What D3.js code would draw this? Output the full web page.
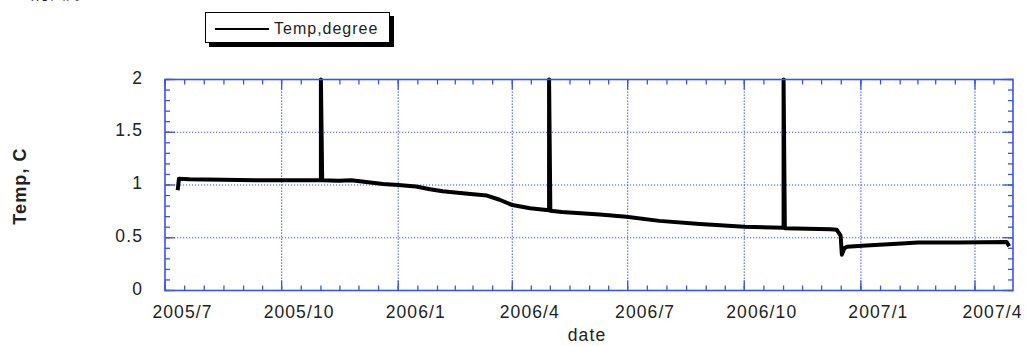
<!DOCTYPE html>
<html>

<head>
	<meta charset="utf-8">
	<title>Temp, degree</title>
	<script src="https://cdn.jsdelivr.net/npm/d3@7"></script>
	<style>
		body { margin: 0; background: #fff; }
		text { font-family: 'Liberation Sans', Arial, sans-serif; fill: #222; }
	</style>
</head>

<body>
	<div class='chart'></div>
	<script>
		// values
		const dates = [
			'2005-07-11', '2005-07-12', '2005-07-20', '2005-08-15', '2005-09-15', '2005-10-15',
			'2005-11-01', '2005-11-01', '2005-11-02', '2005-11-15', '2005-11-25', '2005-12-05',
			'2005-12-20', '2006-01-01', '2006-01-15', '2006-01-26', '2006-02-05', '2006-02-27',
			'2006-03-12', '2006-03-22', '2006-04-01', '2006-04-15', '2006-04-30', '2006-04-30',
			'2006-05-01', '2006-05-10', '2006-06-09', '2006-06-30', '2006-07-26', '2006-08-27',
			'2006-10-01', '2006-11-01', '2006-11-01', '2006-11-02', '2006-12-08', '2006-12-13',
			'2006-12-16', '2006-12-17', '2006-12-19', '2006-12-21', '2007-01-02', '2007-02-02',
			'2007-02-15', '2007-03-19', '2007-04-26', '2007-04-28'
		];
		const temps = [
			0.95, 1.06, 1.055, 1.05, 1.045, 1.045,
			1.045, 2.0, 1.045, 1.04, 1.045, 1.03,
			1.01, 1.0, 0.985, 0.96, 0.94, 0.915,
			0.9, 0.86, 0.81, 0.78, 0.76, 2.0,
			0.755, 0.745, 0.72, 0.70, 0.66, 0.63,
			0.605, 0.595, 2.0, 0.59, 0.58, 0.575,
			0.52, 0.34, 0.40, 0.415, 0.425, 0.445,
			0.455, 0.455, 0.46, 0.42
		];
		const dateTicks = ['2005-07-01', '2005-10-01', '2006-01-01', '2006-04-01',
			'2006-07-01', '2006-10-01', '2007-01-01', '2007-04-01'];
		const dateLabels = ['2005/7', '2005/10', '2006/1', '2006/4', '2006/7', '2006/10', '2007/1', '2007/4'];
		const tempTicks = [0, 0.5, 1, 1.5, 2];
		const xDomain = ['2005-07-01', '2007-05-01'];
		const seriesName = 'Temp,degree';

		const parse = d3.utcParse('%Y-%m-%d');
		const data = dates.map((d, i) => ({ date: parse(d), temp: temps[i] }));

		const W = 1026, H = 346;
		const margin = { top: 79.5, right: 13, bottom: 55.5, left: 165 };
		const blue = '#3a55e0';

		const svg = d3.select('.chart').append('svg')
			.attr('width', W)
			.attr('height', H);

		const x = d3.scaleUtc()
			.domain(xDomain.map(parse))
			.range([margin.left, W - margin.right]);

		const y = d3.scaleLinear()
			.domain([0, 2])
			.range([H - margin.bottom, margin.top]);

		const x0 = x.range()[0], x1 = x.range()[1],
		      y0 = y.range()[0], y1 = y.range()[1];

		// caption cut by the top edge, as in the original
		svg.append('text')
			.attr('x', 18)
			.attr('y', -1)
			.style('font-family', "'Noto Sans CJK JP', sans-serif")
			.style('font-size', '16px')
			.text('（付図）。');

		// dotted grid
		const grid = svg.append('g')
			.attr('stroke', blue)
			.attr('stroke-width', 1.2)
			.attr('stroke-dasharray', '1.2,1.8');

		grid.selectAll('.vg')
			.data(dateTicks.map(parse).slice(1))
			.enter().append('line')
			.attr('x1', d => x(d)).attr('x2', d => x(d))
			.attr('y1', y1).attr('y2', y0);

		grid.selectAll('.hg')
			.data(tempTicks.slice(1, -1))
			.enter().append('line')
			.attr('x1', x0).attr('x2', x1)
			.attr('y1', d => y(d)).attr('y2', d => y(d));

		// minor ticks: months and half months
		const months = d3.utcMonth.range(x.domain()[0], d3.utcMonth.offset(x.domain()[1], 1));
		let minorX = [];
		months.forEach((m, i) => {
			if (i < months.length - 1) {
				minorX.push(x(m));
				minorX.push((x(m) + x(months[i + 1])) / 2);
			}
		});
		const minorY = d3.range(0, 21).map(d => y(d / 10));

		const ticks = svg.append('g')
			.attr('stroke', blue)
			.attr('stroke-width', 1.3);

		minorX.forEach(px => {
			ticks.append('line').attr('x1', px).attr('x2', px).attr('y1', y0).attr('y2', y0 - 5);
			ticks.append('line').attr('x1', px).attr('x2', px).attr('y1', y1).attr('y2', y1 + 5);
		});
		dateTicks.map(parse).forEach(d => {
			ticks.append('line').attr('x1', x(d)).attr('x2', x(d)).attr('y1', y0).attr('y2', y0 - 10);
			ticks.append('line').attr('x1', x(d)).attr('x2', x(d)).attr('y1', y1).attr('y2', y1 + 10);
		});
		minorY.forEach(py => {
			ticks.append('line').attr('x1', x0).attr('x2', x0 + 5).attr('y1', py).attr('y2', py);
			ticks.append('line').attr('x1', x1).attr('x2', x1 - 5).attr('y1', py).attr('y2', py);
		});
		tempTicks.forEach(t => {
			ticks.append('line').attr('x1', x0).attr('x2', x0 + 10).attr('y1', y(t)).attr('y2', y(t));
			ticks.append('line').attr('x1', x1).attr('x2', x1 - 10).attr('y1', y(t)).attr('y2', y(t));
		});

		// the series
		const line = d3.line()
			.x(d => x(d.date))
			.y(d => y(d.temp));

		svg.append('path')
			.datum(data)
			.attr('fill', 'none')
			.attr('stroke', '#000')
			.attr('stroke-width', 4)
			.attr('stroke-linejoin', 'round')
			.attr('d', line);

		// frame
		svg.append('rect')
			.attr('x', x0).attr('y', y1)
			.attr('width', x1 - x0).attr('height', y0 - y1)
			.attr('fill', 'none')
			.attr('stroke', blue)
			.attr('stroke-width', 1.6);

		// tick labels
		svg.append('g').selectAll('text')
			.data(dateTicks)
			.enter().append('text')
			.attr('x', d => x(parse(d)) + 17.5)
			.attr('y', y0 + 27)
			.attr('text-anchor', 'middle')
			.style('font-size', '17.5px')
			.style('letter-spacing', '1.1px')
			.text((d, i) => dateLabels[i]);

		svg.append('g').selectAll('text')
			.data(tempTicks)
			.enter().append('text')
			.attr('x', x0 - 22)
			.attr('y', d => y(d) + 4)
			.attr('text-anchor', 'end')
			.style('font-size', '17.5px')
			.style('letter-spacing', '1.1px')
			.text(d => d);

		// axis titles
		svg.append('text')
			.attr('x', 587)
			.attr('y', 341)
			.attr('text-anchor', 'middle')
			.style('font-size', '17.5px')
			.style('letter-spacing', '1.1px')
			.text('date');

		svg.append('text')
			.attr('transform', 'translate(26,186) rotate(-90)')
			.attr('text-anchor', 'middle')
			.style('font-size', '18px')
			.style('font-weight', 'bold')
			.style('letter-spacing', '1.1px')
			.text('Temp, C');

		// legend with drop shadow
		const legend = svg.append('g');
		legend.append('rect')
			.attr('x', 209).attr('y', 16)
			.attr('width', 185).attr('height', 31)
			.attr('fill', '#000');
		legend.append('rect')
			.attr('x', 205.5).attr('y', 12.5)
			.attr('width', 184).attr('height', 30)
			.attr('fill', '#fff')
			.attr('stroke', '#000')
			.attr('stroke-width', 1);
		legend.append('line')
			.attr('x1', 215).attr('x2', 269)
			.attr('y1', 29).attr('y2', 29)
			.attr('stroke', '#000')
			.attr('stroke-width', 2);
		legend.append('text')
			.attr('x', 274)
			.attr('y', 34)
			.style('font-size', '16px')
			.style('letter-spacing', '1px')
			.text(seriesName);
	</script>
</body>

</html>
